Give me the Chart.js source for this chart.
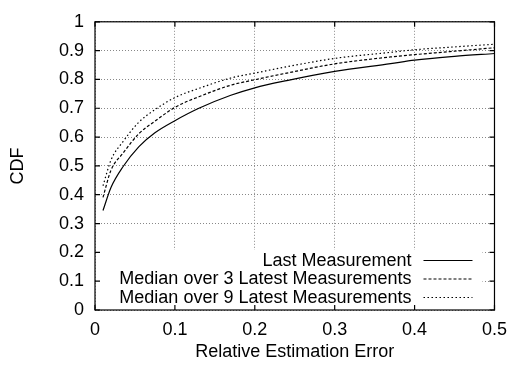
<!DOCTYPE html>
<html>
<head>
<meta charset="utf-8">
<script src="https://cdn.jsdelivr.net/npm/chart.js@4.4.0/dist/chart.umd.min.js"></script>
<style>body{margin:0;background:#fff}</style>
</head>
<body>
<canvas id="myChart" width="516" height="365"></canvas>
<script>
// values
const errors   = [0.01, 0.02, 0.035, 0.055, 0.075, 0.1, 0.13, 0.17, 0.2, 0.24, 0.3, 0.37, 0.4, 0.45, 0.5];
const lastMeas = [0.345, 0.425, 0.497, 0.567, 0.615, 0.657, 0.700, 0.745, 0.771, 0.796, 0.828, 0.855, 0.867, 0.880, 0.890];
const median3  = [0.391, 0.485, 0.544, 0.612, 0.655, 0.703, 0.740, 0.780, 0.799, 0.822, 0.854, 0.878, 0.886, 0.898, 0.910];
const median9  = [0.431, 0.520, 0.584, 0.652, 0.695, 0.737, 0.769, 0.805, 0.822, 0.844, 0.873, 0.894, 0.903, 0.913, 0.922];
const seriesNames = ['Last Measurement', 'Median over 3 Latest Measurements', 'Median over 9 Latest Measurements'];
const seriesDash = [[], [3, 2], [1.5, 2.5]];

const FONT = 'Liberation Sans, Arial, Helvetica, sans-serif';
Chart.defaults.color = '#000';
Chart.defaults.font.family = FONT;
Chart.defaults.font.size = 18;

function pts(ys) {
  return errors.map((x, i) => ({x: x, y: ys[i]}));
}

// tick text like gnuplot: 0, 0.1, ... 1
function tickText(v) {
  return String(Math.round(v * 10) / 10);
}

// legend drawn inside the plot, bottom right, on white
const legendInside = {
  id: 'legendInside',
  beforeDatasetsDraw(chart) {
    const {ctx, chartArea} = chart;
    ctx.save();
    ctx.fillStyle = '#fff';
    ctx.fillRect(chartArea.left + 1, chartArea.bottom - 60, chartArea.right - 12 - chartArea.left - 1, 60);
    ctx.restore();
  },
  afterDatasetsDraw(chart) {
    const {ctx, chartArea} = chart;
    const right = chartArea.right;
    const rows = [chartArea.bottom - 50, chartArea.bottom - 31.5, chartArea.bottom - 13];
    ctx.save();
    ctx.font = '18px ' + FONT;
    ctx.textAlign = 'right';
    ctx.textBaseline = 'middle';
    ctx.fillStyle = '#000';
    seriesNames.forEach((name, i) => {
      ctx.fillText(name, right - 83, rows[i] + 1);
      ctx.beginPath();
      ctx.setLineDash(seriesDash[i]);
      ctx.lineWidth = 1.2;
      ctx.strokeStyle = '#000';
      ctx.moveTo(right - 71, rows[i] + 0.5);
      ctx.lineTo(right - 22, rows[i] + 0.5);
      ctx.stroke();
    });
    ctx.restore();
  }
};

// gnuplot style frame with inward ticks on all four sides
const frame = {
  id: 'frame',
  afterDraw(chart) {
    const {ctx, chartArea, scales} = chart;
    const {left, right, top, bottom} = chartArea;
    ctx.save();
    ctx.strokeStyle = '#000';
    ctx.lineWidth = 1.2;
    ctx.setLineDash([]);
    ctx.strokeRect(left, top, right - left, bottom - top);
    ctx.beginPath();
    scales.x.ticks.forEach(t => {
      const px = scales.x.getPixelForValue(t.value);
      ctx.moveTo(px, bottom); ctx.lineTo(px, bottom - 5);
      ctx.moveTo(px, top); ctx.lineTo(px, top + 5);
    });
    scales.y.ticks.forEach(t => {
      const py = scales.y.getPixelForValue(t.value);
      ctx.moveTo(left, py); ctx.lineTo(left + 5, py);
      ctx.moveTo(right, py); ctx.lineTo(right - 5, py);
    });
    ctx.stroke();
    ctx.restore();
  }
};

const data = {
  datasets: seriesNames.map((name, i) => ({
    label: name,
    data: pts([lastMeas, median3, median9][i]),
    borderColor: '#000',
    borderWidth: 1.2,
    borderDash: seriesDash[i],
    pointRadius: 0,
    fill: false,
    cubicInterpolationMode: 'monotone'
  }))
};

const config = {
  type: 'line',
  data: data,
  options: {
    responsive: false,
    animation: false,
    devicePixelRatio: 1,
    layout: {padding: {top: 16, right: 17, left: 0, bottom: 0}},
    plugins: {
      legend: {display: false},
      tooltip: {enabled: false}
    },
    scales: {
      x: {
        type: 'linear',
        min: 0,
        max: 0.5,
        ticks: {stepSize: 0.1, padding: 9, callback: tickText},
        grid: {color: '#888', lineWidth: 1, drawTicks: false},
        border: {display: false, dash: [1, 2]},
        title: {display: true, text: 'Relative Estimation Error', padding: {top: 0, bottom: 2}},
        afterFit(scale) { scale.height = 55; }
      },
      y: {
        min: 0,
        max: 1,
        ticks: {stepSize: 0.1, padding: 11, callback: tickText},
        grid: {color: '#888', lineWidth: 1, drawTicks: false},
        border: {display: false, dash: [1, 2]},
        title: {display: true, text: 'CDF', padding: {top: 7, bottom: 0}},
        afterFit(scale) { scale.width = 95; }
      }
    }
  },
  plugins: [legendInside, frame]
};

const myChart = new Chart(
  document.getElementById('myChart'),
  config
);
</script>
</body>
</html>
